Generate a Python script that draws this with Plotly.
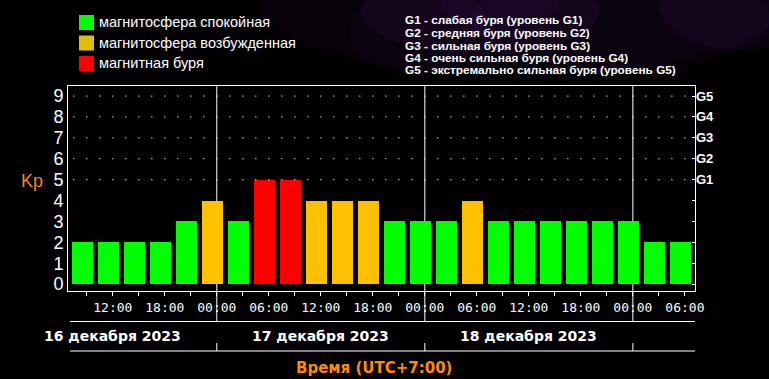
import plotly.graph_objects as go
from datetime import datetime, timedelta

# ---------------- data ----------------
start_center = datetime(2023, 12, 16, 8, 30)   # centre of first 3-hour interval (UTC+7)
kp_values = [2, 2, 2, 2, 3, 4, 3, 5, 5, 4, 4, 4, 3, 3, 3, 4, 3, 3, 3, 3, 3, 3, 2, 2]
bar_times = [start_center + timedelta(hours=3 * i) for i in range(len(kp_values))]

day_labels = ["16 декабря 2023", "17 декабря 2023", "18 декабря 2023"]
day_noons = [datetime(2023, 12, 16, 12), datetime(2023, 12, 17, 12), datetime(2023, 12, 18, 12)]
day_bounds = [datetime(2023, 12, 17), datetime(2023, 12, 18), datetime(2023, 12, 19)]

g_levels = [5, 6, 7, 8, 9]
g_labels = ["G1", "G2", "G3", "G4", "G5"]

legend_left = ["магнитосфера спокойная", "магнитосфера возбужденная", "магнитная буря"]
legend_left_colors = ["#00FF00", "#E0C000", "#FF0000"]
legend_right = [
    "G1 - слабая буря (уровень G1)",
    "G2 - средняя буря (уровень G2)",
    "G3 - сильная буря (уровень G3)",
    "G4 - очень сильная буря (уровень G4)",
    "G5 - экстремально сильная буря (уровень G5)",
]

x_range = [datetime(2023, 12, 16, 6, 50), datetime(2023, 12, 19, 7, 10)]
y_range = [-0.33, 9.48]

GREEN, YELLOW, RED = "#00FF00", "#FFC000", "#FF0000"


def kp_color(v):
    if v >= 5:
        return RED
    if v >= 4:
        return YELLOW
    return GREEN


# ---------------- geometry helpers ----------------
W, H = 769, 379
PL, PR, PT, PB = 68, 695, 86, 291


def px(x):
    return (x - PL) / (PR - PL)


def py(y):
    return (PB - y) / (PB - PT)


fig = go.Figure()

# dotted grid (G-levels), 1.5 h spacing
dot_x, dot_y = [], []
t = x_range[0].replace(minute=0) + timedelta(hours=1.5)
while t < x_range[1]:
    for lv in g_levels:
        dot_x.append(t)
        dot_y.append(lv)
    t += timedelta(hours=1.5)
fig.add_trace(go.Scatter(x=dot_x, y=dot_y, mode="markers",
                         marker=dict(symbol="square", size=1.3, color="rgba(255,255,255,0.75)",
                                     line=dict(width=0)),
                         hoverinfo="skip", showlegend=False))

fig.add_trace(go.Bar(x=bar_times, y=kp_values,
                     width=2.45 * 3600 * 1000,
                     marker=dict(color=[kp_color(v) for v in kp_values], line=dict(width=0)),
                     hoverinfo="skip", showlegend=False))

fig.add_trace(go.Scatter(x=[bar_times[0]], y=[0], yaxis="y2", mode="markers",
                         marker=dict(opacity=0), hoverinfo="skip", showlegend=False))

shapes = []
# background purple haze (outside plot area, top)
for cx, cy, rx, ry, a in [(520, 5, 260, 70, 0.07), (480, 10, 120, 45, 0.09),
                          (740, 5, 80, 45, 0.09), (620, 20, 150, 50, 0.06),
                          (420, 30, 70, 45, 0.06), (500, 0, 60, 30, 0.08)]:
    shapes.append(dict(type="circle", xref="paper", yref="paper", layer="below",
                       x0=px(cx - rx), x1=px(cx + rx), y0=py(min(cy + ry, 84)), y1=py(cy - ry),
                       fillcolor=f"rgba(95,30,140,{a})", line=dict(width=0)))

# day boundary lines
for d in day_bounds:
    shapes.append(dict(type="line", xref="x", yref="paper", layer="below",
                       x0=d, x1=d, y0=py(322), y1=1, line=dict(color="white", width=1)))
    shapes.append(dict(type="line", xref="x", yref="paper",
                       x0=d, x1=d, y0=py(351), y1=py(343), line=dict(color="white", width=1)))
# date band lines
for yy in (321.5, 351):
    shapes.append(dict(type="line", xref="paper", yref="paper",
                       x0=px(70), x1=px(695), y0=py(yy), y1=py(yy),
                       line=dict(color="white", width=1)))

# left legend squares
for i, c in enumerate(legend_left_colors):
    cy = 22.5 + 20.5 * i
    shapes.append(dict(type="rect", xref="paper", yref="paper",
                       x0=px(79), x1=px(94), y0=py(cy + 7.5), y1=py(cy - 7.5),
                       fillcolor=c, line=dict(width=0)))

annotations = []
for i, txt in enumerate(legend_left):
    annotations.append(dict(text=txt, xref="paper", yref="paper", x=px(97), y=py(22.5 + 20.5 * i),
                            xanchor="left", yanchor="middle", showarrow=False,
                            font=dict(family="Liberation Sans", size=14.5, color="white")))
for i, txt in enumerate(legend_right):
    annotations.append(dict(text=txt, xref="paper", yref="paper", x=px(404), y=py(20.5 + 12.5 * i),
                            xanchor="left", yanchor="middle", showarrow=False,
                            height=12, valign="middle", borderpad=0,
                            font=dict(family="Liberation Sans", size=11.8, color="white",
                                      weight="bold")))
for lbl, d in zip(day_labels, day_noons):
    annotations.append(dict(text=lbl, xref="x", yref="paper", x=d, y=py(335.5),
                            xanchor="center", yanchor="middle", showarrow=False,
                            font=dict(family="DejaVu Sans", size=14, color="white", weight="bold")))
annotations.append(dict(text="Время (UTC+7:00)", xref="paper", yref="paper", x=px(374), y=py(368),
                        xanchor="center", yanchor="middle", showarrow=False,
                        font=dict(family="DejaVu Sans", size=15, color="#FF8C00", weight="bold")))
annotations.append(dict(text="Kp", xref="paper", yref="paper", x=px(32), y=py(181),
                        xanchor="center", yanchor="middle", showarrow=False,
                        font=dict(family="Liberation Sans", size=18, color="#F08A10")))

fig.update_layout(
    width=W, height=H, autosize=False,
    margin=dict(l=PL, r=W - PR, t=PT, b=H - PB, pad=0),
    paper_bgcolor="black", plot_bgcolor="black",
    bargap=0, hovermode=False,
    shapes=shapes, annotations=annotations,
    xaxis=dict(type="date", range=x_range, tickmode="linear",
               tick0="2023-12-16 00:00", dtick=6 * 3600 * 1000, tickformat="%H:%M",
               ticks="outside", ticklen=4, tickcolor="white",
               minor=dict(dtick=3 * 3600 * 1000, tick0="2023-12-16 00:00",
                          ticks="outside", ticklen=4, tickcolor="white", showgrid=False),
               tickfont=dict(family="DejaVu Sans Mono", size=13, color="white"),
               showgrid=False, zeroline=False,
               showline=True, mirror=True, linecolor="white", linewidth=1),
    yaxis=dict(range=y_range, tickmode="array", tickvals=list(range(10)),
               ticktext=[str(v) for v in range(10)],
               tickfont=dict(family="Liberation Sans", size=18, color="white"),
               ticks="", showgrid=False, zeroline=False,
               showline=True, mirror=True, linecolor="white", linewidth=1),
    yaxis2=dict(range=y_range, overlaying="y", side="right", tickmode="array",
                tickvals=list(range(10)), ticktext=[""] * 5 + g_labels,
                tickfont=dict(family="Liberation Sans", size=13, color="white", weight="bold"),
                ticks="inside", ticklen=3, tickcolor="white",
                showgrid=False, zeroline=False, showline=False),
)

fig.write_html("out.html", config={"displayModeBar": False},
               post_script="document.body.style.margin='0';document.body.style.padding='0';"
                           "document.body.style.background='black';")
